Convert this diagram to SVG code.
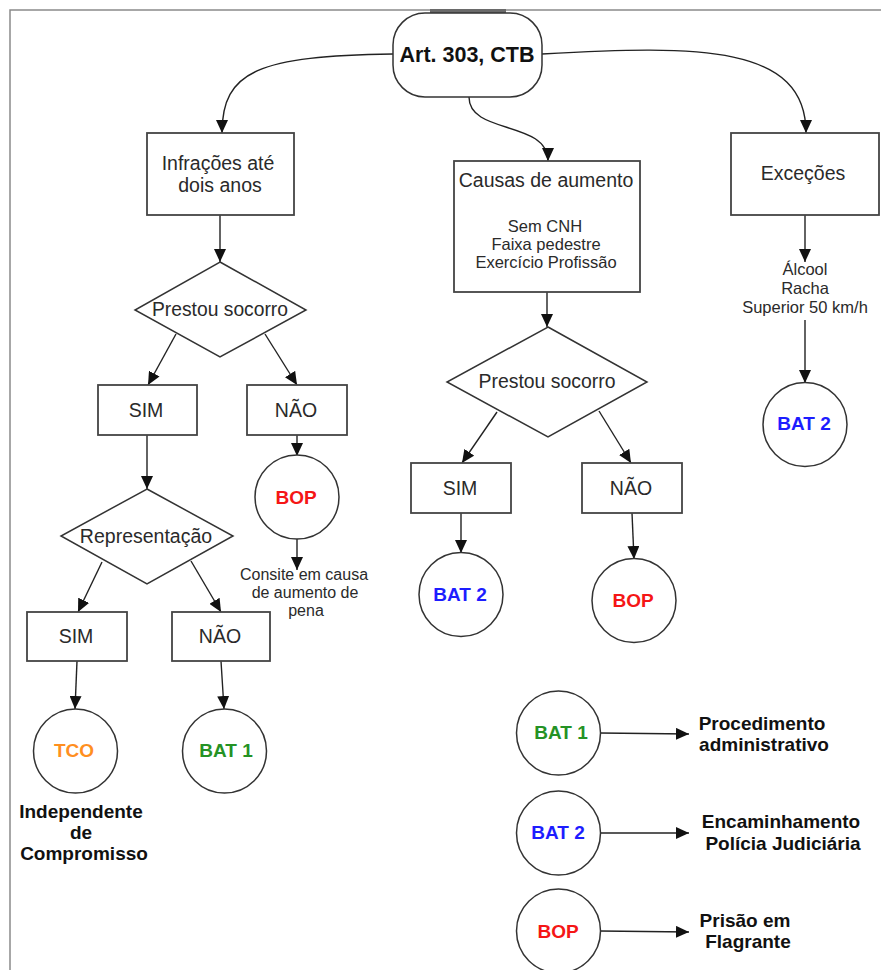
<svg xmlns="http://www.w3.org/2000/svg" width="881" height="970" viewBox="0 0 881 970">
<defs>
<marker id="ah" markerUnits="userSpaceOnUse" markerWidth="13" markerHeight="12" refX="13" refY="6" orient="auto">
<path d="M0,0 L13,6 L0,12 z" fill="#111"/>
</marker>
<style>
.box{fill:#fff;stroke:#444;stroke-width:1.8}
.shape{fill:#fff;stroke:#333;stroke-width:1.5}
.ln{fill:none;stroke:#222;stroke-width:1.4;marker-end:url(#ah)}
.t{font-family:"Liberation Sans",Arial,sans-serif;font-size:19.5px;fill:#2a2a2a;text-anchor:middle}
.s{font-family:"Liberation Sans",Arial,sans-serif;font-size:16.5px;fill:#2a2a2a;text-anchor:middle}
.b{font-family:"Liberation Sans",Arial,sans-serif;font-size:19px;font-weight:bold;fill:#111;text-anchor:middle}
.red{fill:#f51616}.blue{fill:#1d1dff}.green{fill:#259225}.orange{fill:#ff8f1f}
</style>
</defs>
<rect width="881" height="970" fill="#fff"/>
<g id="frame">
<path d="M10,970 V10 H881" fill="none" stroke="#8a8a8a" stroke-width="1.5"/>
<rect x="430" y="9" width="76" height="5" fill="#6a6a6a"/>
</g>
<g id="connectors">
<path class="ln" d="M393,54 C260,56 222,70 222,133"/>
<path class="ln" d="M469,97 C469,135 548,120 548,161"/>
<path class="ln" d="M542,54 C700,45 806,45 806,133"/>
<path class="ln" d="M220,215 V262"/>
<path class="ln" d="M176,334 L148,385"/>
<path class="ln" d="M265,334 L297,385"/>
<path class="ln" d="M297,435 V456"/>
<path class="ln" d="M297,539 V570"/>
<path class="ln" d="M147,435 V489"/>
<path class="ln" d="M102,562 L78,612"/>
<path class="ln" d="M191,561 L221,612"/>
<path class="ln" d="M77,661 L75,709"/>
<path class="ln" d="M221,661 L224,709"/>
<path class="ln" d="M547,292 V327"/>
<path class="ln" d="M497,412 L462,463"/>
<path class="ln" d="M599,411 L631,463"/>
<path class="ln" d="M461,513 V553"/>
<path class="ln" d="M632,513 L634,559"/>
<path class="ln" d="M805,215 V262"/>
<path class="ln" d="M805,320 V383"/>
<path class="ln" d="M600,733 L689,734"/>
<path class="ln" d="M600,833 L689,833"/>
<path class="ln" d="M600,931 L689,932"/>
</g>
<g id="art303">
<rect x="393" y="13" width="149" height="84" rx="32" ry="32" class="shape"/>
<text class="b" x="467" y="62" style="font-size:21.5px">Art. 303, CTB</text>
</g>
<g id="infracoes">
<rect class="box" x="147" y="133" width="147" height="82"/>
<text class="t" x="218" y="170">Infrações até</text>
<text class="t" x="220" y="192">dois anos</text>
</g>
<g id="causas">
<rect class="box" x="454" y="161" width="186" height="131"/>
<text class="t" x="546" y="187">Causas de aumento</text>
<text class="s" x="545" y="232">Sem CNH</text>
<text class="s" x="546" y="250">Faixa pedestre</text>
<text class="s" x="546" y="268">Exercício Profissão</text>
</g>
<g id="excecoes">
<rect class="box" x="731" y="133" width="148" height="82"/>
<text class="t" x="803" y="180">Exceções</text>
</g>
<g id="excecoes-lista">
<text class="s" x="805" y="275">Álcool</text>
<text class="s" x="805" y="294">Racha</text>
<text class="s" x="805" y="313">Superior 50 km/h</text>
</g>
<g id="prestou1">
<polygon class="shape" points="220,262 306,310 220,357 135,310"/>
<text class="t" x="220" y="316" textLength="136" lengthAdjust="spacingAndGlyphs">Prestou socorro</text>
</g>
<g id="sim1">
<rect class="box" x="98" y="385" width="99" height="50"/>
<text class="t" x="146" y="417">SIM</text>
</g>
<g id="nao1">
<rect class="box" x="247" y="385" width="100" height="50"/>
<text class="t" x="296" y="417">NÃO</text>
</g>
<g id="bop1">
<circle class="shape" cx="297" cy="497" r="42"/>
<text class="b red" x="296" y="504">BOP</text>
</g>
<g id="consite">
<text class="s" x="304" y="580" style="font-size:16px">Consite em causa</text>
<text class="s" x="305" y="598" style="font-size:16px">de aumento de</text>
<text class="s" x="306" y="616" style="font-size:16px">pena</text>
</g>
<g id="representacao">
<polygon class="shape" points="147,489 233,536 147,584 61,536"/>
<text class="t" x="146" y="543">Representação</text>
</g>
<g id="sim2">
<rect class="box" x="27" y="612" width="100" height="49"/>
<text class="t" x="76" y="643">SIM</text>
</g>
<g id="nao2">
<rect class="box" x="172" y="612" width="98" height="49"/>
<text class="t" x="220" y="643">NÃO</text>
</g>
<g id="tco">
<circle class="shape" cx="75.5" cy="751" r="42"/>
<text class="b orange" x="74" y="757">TCO</text>
</g>
<g id="bat1a">
<circle class="shape" cx="224.5" cy="751" r="42"/>
<text class="b green" x="226" y="757">BAT 1</text>
</g>
<g id="independente">
<text class="b" x="81" y="818">Independente</text>
<text class="b" x="81" y="839">de</text>
<text class="b" x="84" y="860">Compromisso</text>
</g>
<g id="prestou2">
<polygon class="shape" points="548,327 647,382 548,437 447,382"/>
<text class="t" x="547" y="388" textLength="137" lengthAdjust="spacingAndGlyphs">Prestou socorro</text>
</g>
<g id="sim3">
<rect class="box" x="411" y="463" width="100" height="50"/>
<text class="t" x="460" y="495">SIM</text>
</g>
<g id="nao3">
<rect class="box" x="582" y="463" width="100" height="50"/>
<text class="t" x="631" y="495">NÃO</text>
</g>
<g id="bat2a">
<circle class="shape" cx="461" cy="594.5" r="42"/>
<text class="b blue" x="460" y="601">BAT 2</text>
</g>
<g id="bop2">
<circle class="shape" cx="634" cy="600.5" r="42"/>
<text class="b red" x="633" y="607">BOP</text>
</g>
<g id="bat2b">
<circle class="shape" cx="805" cy="424.5" r="42"/>
<text class="b blue" x="804" y="430">BAT 2</text>
</g>
<g id="legend-bat1">
<circle class="shape" cx="558.5" cy="733" r="42"/>
<text class="b green" x="561" y="739">BAT 1</text>
<text class="b" x="762" y="730">Procedimento</text>
<text class="b" x="764" y="751">administrativo</text>
</g>
<g id="legend-bat2">
<circle class="shape" cx="558.5" cy="833" r="42"/>
<text class="b blue" x="558" y="839">BAT 2</text>
<text class="b" x="781" y="828">Encaminhamento</text>
<text class="b" x="783" y="850">Polícia Judiciária</text>
</g>
<g id="legend-bop">
<circle class="shape" cx="558.5" cy="931" r="42"/>
<text class="b red" x="558" y="938">BOP</text>
<text class="b" x="745" y="927">Prisão em</text>
<text class="b" x="748" y="948">Flagrante</text>
</g>
</svg>
